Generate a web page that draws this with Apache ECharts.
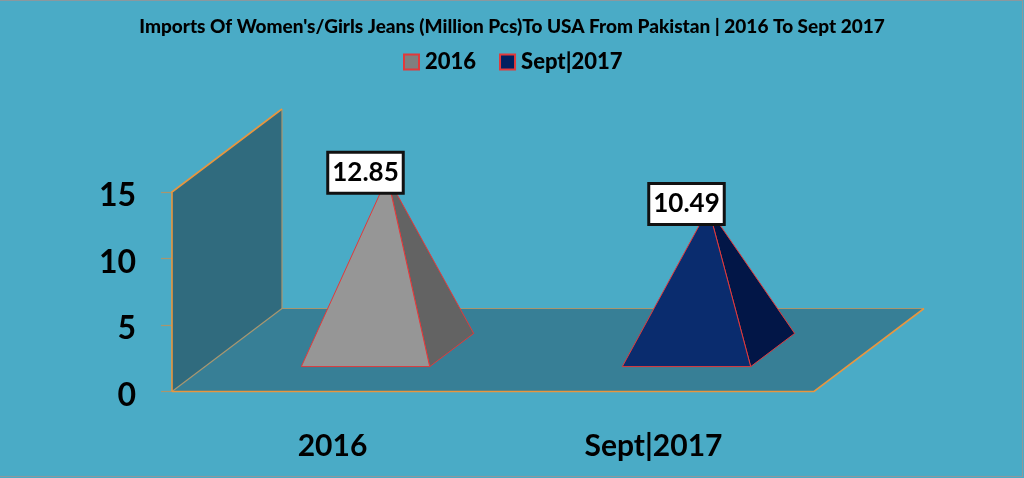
<!DOCTYPE html>
<html><head><meta charset="utf-8">
<script src="https://cdn.jsdelivr.net/npm/echarts@6/dist/echarts.min.js"></script>
<style>
html,body{margin:0;padding:0;background:#dfe5e8;overflow:hidden}
#c{position:absolute;left:0;top:0;width:1024px;height:478px}
#f{position:absolute;left:0;top:0;width:1022px;height:475px;border:1px solid #8b989e;border-width:1px 1px 1px 0;pointer-events:none}
</style></head><body>
<div id="c"></div><div id="f"></div>
<script>
const categories = ['2016', 'Sept|2017'];
const values2016 = [12.85];
const valuesSept2017 = [10.49];
const titleText = "Imports Of Women's/Girls Jeans (Million Pcs)To USA From Pakistan | 2016 To Sept 2017";
const yMax = 15, yStep = 5;

const FONT = 'Lato';
const BG = '#4aabc6', WALL = '#306b7e', FLOOR = '#377f96';
const ORANGE = '#e8963f', TAN = '#a8966f', RED = '#e2393b';
const DX = 110, DY = 83;          // oblique depth of the 3D box
const NEAR = 0.3, FAR = 0.7;      // depth range occupied by a pyramid
const BAR = 0.4;                  // pyramid base as share of the category band

const chart = echarts.init(document.getElementById('c'), null, {renderer: 'canvas'});

function renderBox(params, api) {
  const band = api.size([1, 0])[0];
  const l = api.coord([0, 0])[0] - band / 2;
  const r = api.coord([categories.length - 1, 0])[0] + band / 2;
  const b = api.coord([0, 0])[1];
  const t = api.coord([0, yMax])[1];
  const line = (pts, c, w) => ({type: 'polyline', shape: {points: pts}, style: {stroke: c, lineWidth: w, fill: null}});
  return {type: 'group', children: [
    {type: 'polygon', shape: {points: [[l, b], [l + DX, b - DY], [l + DX, t - DY], [l, t]]}, style: {fill: WALL}},
    {type: 'polygon', shape: {points: [[l, b], [l + DX, b - DY], [r + DX, b - DY], [r, b]]}, style: {fill: FLOOR}},
    line([[l + DX, t - DY], [l + DX, b - DY], [r + DX, b - DY]], TAN, 1.2),
    line([[l, b], [l + DX, b - DY]], TAN, 1.2),
    line([[l, b], [l, t], [l + DX, t - DY]], ORANGE, 1.6),
    line([[l, b], [r, b], [r + DX, b - DY]], ORANGE, 1.6)
  ]};
}

function pyramid(front, side) {
  return function (params, api) {
    const idx = api.value(0), val = api.value(1);
    const c = api.coord([idx, 0]);
    const band = api.size([1, 0])[0];
    const h = c[1] - api.coord([idx, val])[1];
    const w = band * BAR;
    const x0 = c[0] - w / 2, x1 = c[0] + w / 2;
    const fl = [x0 + DX * NEAR, c[1] - DY * NEAR];
    const fr = [x1 + DX * NEAR, c[1] - DY * NEAR];
    const br = [x1 + DX * FAR, c[1] - DY * FAR];
    const mid = (NEAR + FAR) / 2;
    const apex = [c[0] + DX * mid, c[1] - DY * mid - h - 2];
    const st = f => ({fill: f, stroke: RED, lineWidth: 1});
    return {type: 'group', children: [
      {type: 'polygon', shape: {points: [fr, br, apex]}, style: st(side)},
      {type: 'polygon', shape: {points: [fl, fr, apex]}, style: st(front)},
      {type: 'text', z2: 10, style: {
        text: val.toFixed(2), x: c[0] + DX * NEAR, y: fl[1] - h - 4,
        align: 'center', verticalAlign: 'bottom',
        font: 'bold 26px ' + FONT, fill: '#000',
        backgroundColor: '#fff', borderColor: '#111', borderWidth: 3,
        padding: [6, 3, 6, 3]
      }}
    ]};
  };
}

chart.setOption({
  animation: false,
  backgroundColor: BG,
  textStyle: {fontFamily: FONT},
  title: {
    text: titleText, left: 'center', top: 12,
    textStyle: {fontFamily: FONT, fontWeight: 900, fontSize: 19, color: '#000'}
  },
  legend: {
    data: ['2016', 'Sept|2017'], top: 46, left: 398, itemWidth: 15, itemHeight: 15, itemGap: 23,
    icon: 'rect',
    textStyle: {fontFamily: FONT, fontWeight: 900, fontSize: 22, color: '#000', padding: [0, 0, 0, 1]}
  },
  grid: {left: 172, right: 210, top: 192, bottom: 86.5, containLabel: false},
  xAxis: {
    type: 'category', data: categories,
    axisLine: {show: false}, axisTick: {show: false},
    axisLabel: {margin: 40, color: '#000', fontFamily: FONT, fontWeight: 'bold', fontSize: 30}
  },
  yAxis: {
    type: 'value', min: 0, max: yMax, interval: yStep,
    splitLine: {show: false},
    axisLine: {show: false},
    axisTick: {show: true, length: 11, lineStyle: {color: TAN, width: 1.2}},
    axisLabel: {margin: 36, color: '#000', fontFamily: FONT, fontWeight: 'bold', fontSize: 32, verticalAlign: 'top', lineHeight: 8}
  },
  series: [
    {type: 'custom', name: 'box', silent: true, z: 1, clip: false, renderItem: renderBox, data: [[0, yMax]], encode: {x: 0, y: 1}},
    {type: 'custom', name: '2016', z: 2, clip: false, renderItem: pyramid('#969696', '#636363'),
      itemStyle: {color: '#7f7f7f', borderColor: RED, borderWidth: 1.5},
      data: values2016.map(v => [0, v]), encode: {x: 0, y: 1}},
    {type: 'custom', name: 'Sept|2017', z: 2, clip: false, renderItem: pyramid('#0a2c6e', '#021647'),
      itemStyle: {color: '#002060', borderColor: RED, borderWidth: 1.5},
      data: valuesSept2017.map(v => [1, v]), encode: {x: 0, y: 1}}
  ]
});
</script>
</body></html>
